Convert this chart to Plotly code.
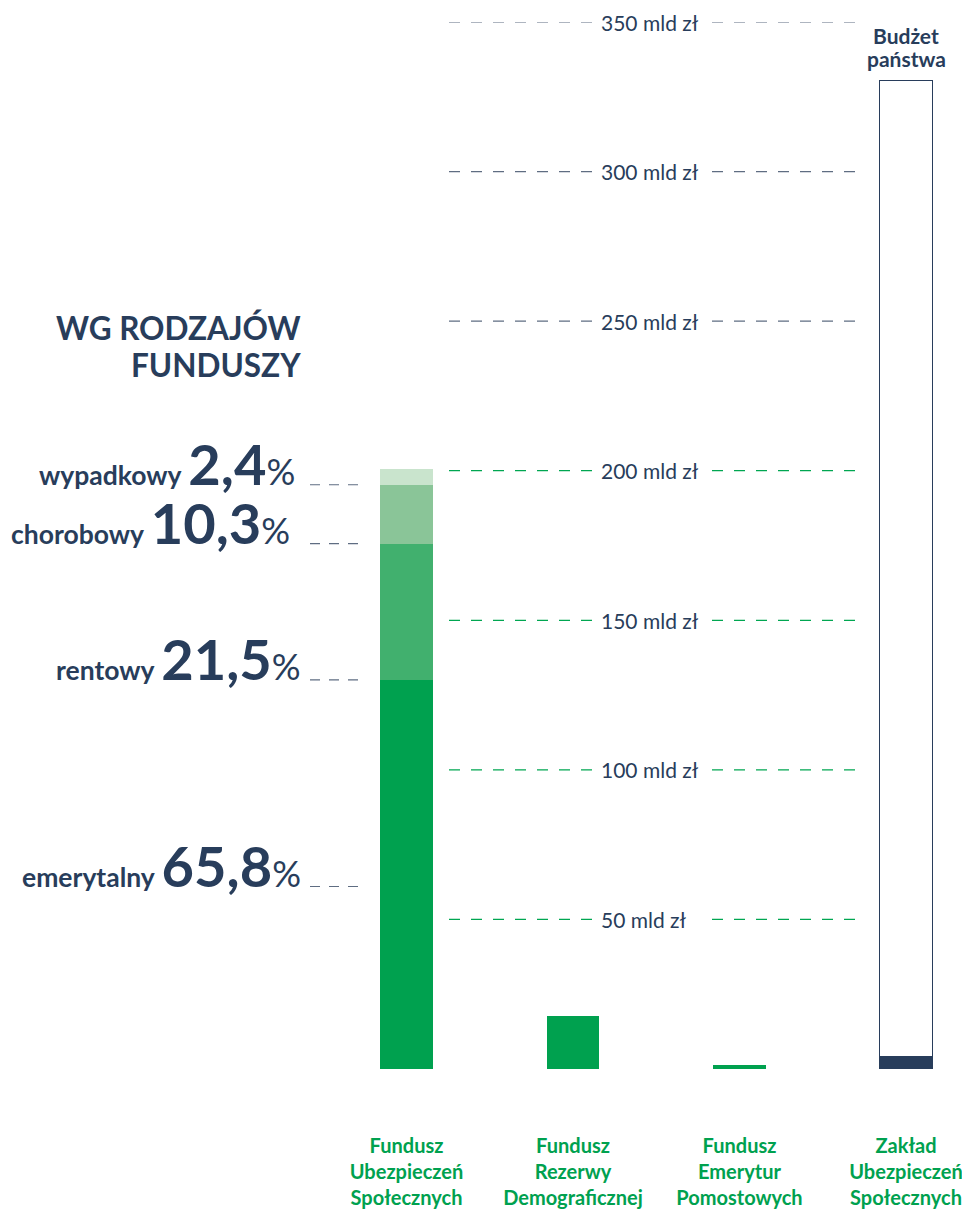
import plotly.graph_objects as go

# ---------------- data ----------------
categories = [
    "Fundusz<br>Ubezpieczeń<br>Społecznych",
    "Fundusz<br>Rezerwy<br>Demograficznej",
    "Fundusz<br>Emerytur<br>Pomostowych",
    "Zakład<br>Ubezpieczeń<br>Społecznych",
]
fus_segment_names = ["emerytalny", "rentowy", "chorobowy", "wypadkowy"]
fus_segment_values = [130.1, 45.5, 19.7, 5.4]          # mld zł
fus_segment_shares = ["65,8", "21,5", "10,3", "2,4"]   # %
other_fund_values = [17.7, 1.2]                        # FRD, FEP (mld zł)
zus_own_value = 4.0                                    # mld zł
zus_budget_value = 326.4                               # mld zł (Budżet państwa)
grid_values = [50, 100, 150, 200, 250, 300, 350]
grid_labels = ["50 mld zł", "100 mld zł", "150 mld zł", "200 mld zł",
               "250 mld zł", "300 mld zł", "350 mld zł"]

# ---------------- styles ----------------
NAVY = "#283d5b"
GREEN = "#00a14f"
GRID_GREEN = "#00a651"
GRID_GRAY = "#5f6d82"
SEG_COLORS = ["#00a14f", "#41b06e", "#8ac598", "#c9e4cd"]
FONT = "Lato, 'Open Sans', sans-serif"

OFF = 8                      # page body margin
W, H = 962, 1203
L, R, T, B = 302, 10, 14, 142
PW = W - L - R
PH = H - T - B


def px2paper(page_px):
    return (page_px - OFF - L) / PW


def py2paper(page_py):
    return (T + PH - (page_py - OFF)) / PH


BAR_W = 0.318

fig = go.Figure()

for name, val, col in zip(fus_segment_names, fus_segment_values, SEG_COLORS):
    fig.add_trace(go.Bar(x=[categories[0]], y=[val], name=name, width=BAR_W,
                         marker=dict(color=col, line=dict(width=0))))

fig.add_trace(go.Bar(x=categories[1:3], y=other_fund_values, width=BAR_W,
                     marker=dict(color=GREEN, line=dict(width=0))))

fig.add_trace(go.Bar(x=[categories[3]], y=[zus_own_value], width=BAR_W,
                     marker=dict(color=NAVY, line=dict(color=NAVY, width=1.5))))
fig.add_trace(go.Bar(x=[categories[3]], y=[zus_budget_value], width=BAR_W,
                     marker=dict(color="white", line=dict(color=NAVY, width=1.5))))

shapes = []
annotations = []

# dashed reference lines with labels
for v, lab in zip(grid_values, grid_labels):
    col = GRID_GREEN if v <= 200 else GRID_GRAY
    for a, b in [(449, 592), (712, 855)]:
        shapes.append(dict(type="line", xref="paper", yref="y",
                           x0=px2paper(a), x1=px2paper(b), y0=v, y1=v,
                           line=dict(color=col, width=1.2, dash="11px,11px"),
                           layer="below"))
    annotations.append(dict(xref="paper", yref="y", x=px2paper(599), y=v,
                            xanchor="left", yanchor="middle", text=lab,
                            showarrow=False,
                            font=dict(family=FONT, size=21, color=NAVY)))

# left-hand labels for FUS segments
leader_levels = [61, 130.1, 175.6, 195.3]
label_right_px = [303, 303, 292, 297]
for name, share, lvl, rx in zip(fus_segment_names, fus_segment_shares,
                                leader_levels, label_right_px):
    shapes.append(dict(type="line", xref="paper", yref="y",
                       x0=px2paper(310), x1=px2paper(359), y0=lvl, y1=lvl,
                       line=dict(color=GRID_GRAY, width=1.2, dash="10px,9px")))
    txt = (f"<b>{name}</b> <b><span style='font-size:56px'>{share}</span></b>"
           f"<span style='font-size:36px'>%</span>")
    annotations.append(dict(xref="paper", yref="y", x=px2paper(rx), y=lvl,
                            xanchor="right", yanchor="bottom", yshift=-14,
                            text=txt, showarrow=False,
                            font=dict(family=FONT, size=26.5, color=NAVY)))

# section title
for line, cy in [("WG RODZAJÓW", 328), ("FUNDUSZY", 365)]:
    annotations.append(dict(xref="paper", yref="paper", x=px2paper(303),
                            y=py2paper(cy), xanchor="right",
                            yanchor="middle", showarrow=False,
                            text=f"<b>{line}</b>",
                            font=dict(family=FONT, size=31.5, color=NAVY)))

# label above ZUS bar
for line, cy in [("Budżet", 35), ("państwa", 58)]:
    annotations.append(dict(xref="x", yref="paper", x=categories[3],
                            y=py2paper(cy), xanchor="center",
                            yanchor="middle", showarrow=False,
                            text=f"<b>{line}</b>",
                            font=dict(family=FONT, size=21, color=NAVY)))

fig.update_layout(
    width=W, height=H,
    margin=dict(l=L, r=R, t=T, b=B, pad=0, autoexpand=False),
    barmode="stack",
    showlegend=False,
    plot_bgcolor="white", paper_bgcolor="white",
    shapes=shapes, annotations=annotations,
    xaxis=dict(type="category", range=[-0.5796, 3.3243], showgrid=False,
               zeroline=False, showline=False, ticks="outside", ticklen=59,
               tickcolor="rgba(0,0,0,0)", automargin=False,
               tickfont=dict(family=FONT, size=20, color=GREEN, weight="bold")),
    yaxis=dict(range=[0, 350], showgrid=False, zeroline=False,
               showticklabels=False, showline=False, automargin=False),
    font=dict(family=FONT, color=NAVY),
)

fig.write_html("out.html")
